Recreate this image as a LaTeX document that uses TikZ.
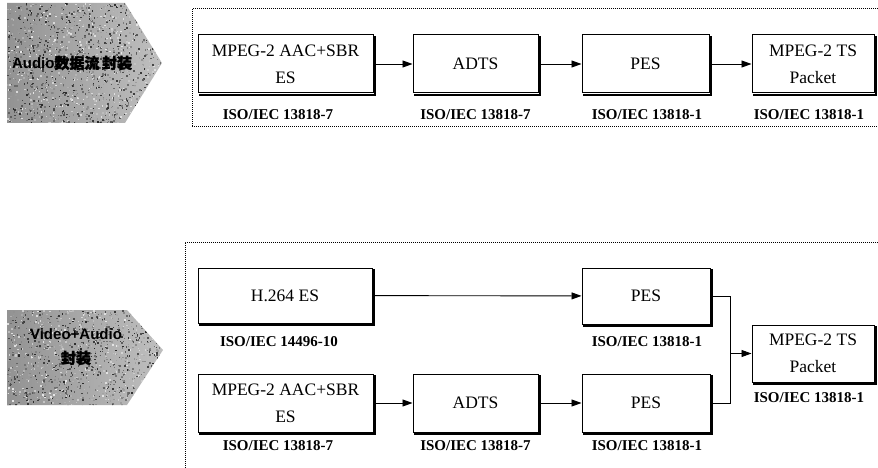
\documentclass[tikz,border=0pt]{standalone}
\usepackage{fontspec}
\setmainfont{Liberation Serif}
\setsansfont{Liberation Sans}
\newfontfamily\cjk[FakeBold=2]{Noto Sans CJK SC}
\usetikzlibrary{arrows.meta}
\tikzset{
  box/.style={draw, line width=1pt, fill=white, inner sep=0pt, align=center,
    font=\fontsize{17.5}{27}\selectfont},
  boxshadow/.style={line width=1.6pt, line cap=rect},
  lab/.style={font=\bfseries\fontsize{15}{17}\selectfont, inner sep=0pt},
  arr/.style={line width=0.9pt, -{Triangle[length=10pt,width=7pt]}},
  conn/.style={line width=0.9pt},
  framebox/.style={line width=1pt, dash pattern=on 1pt off 1pt},
  tag/.style={inner sep=0pt, text=black, font=\sffamily\bfseries\fontsize{15}{17}\selectfont, align=center}
}
\begin{document}
\begin{tikzpicture}[x=1pt,y=-1pt]
\useasboundingbox (0,0) rectangle (878,468);
\clip (0,0) rectangle (878,468);

% ---------- left pentagon tags ----------
\begin{scope}
  \clip (7,3) -- (125,3) -- (162,63) -- (125,123) -- (7,123) -- cycle;
  \shade[left color=gray!85, right color=gray!50] (7,3) rectangle (162,123);
  \pgfmathsetseed{7}
  \foreach \i in {1,...,1600}{
    \pgfmathsetmacro\rx{7+155*rnd}
    \pgfmathsetmacro\ry{3+120*rnd}
    \pgfmathsetmacro\rg{int(10+75*rnd)}
    \fill[black!\rg] (\rx,\ry) rectangle ++(1.5,1.5);
  }
\end{scope}
\node[tag] (tagA) at (72,63) {Audio{\cjk 数据流}\,{\cjk 封装}};

\begin{scope}
  \clip (7,310) -- (127,310) -- (163,350) -- (127,405) -- (7,405) -- cycle;
  \shade[left color=gray!85, right color=gray!50] (7,310) rectangle (163,405);
  \pgfmathsetseed{11}
  \foreach \i in {1,...,1300}{
    \pgfmathsetmacro\rx{7+156*rnd}
    \pgfmathsetmacro\ry{310+95*rnd}
    \pgfmathsetmacro\rg{int(10+75*rnd)}
    \fill[black!\rg] (\rx,\ry) rectangle ++(1.5,1.5);
  }
\end{scope}
\node[tag] (tagB1) at (76,334) {Video+Audio};
\node[tag] (tagB2) at (76,358) {\cjk 封装};

% ---------- dotted frames ----------
\draw[framebox] (884,9) -- (192,9) -- (192,127) -- (884,127);
\draw[framebox] (884,242) -- (185,242) -- (185,472);

% ---------- top row ----------
\node[box, minimum width=175pt, minimum height=58pt] (a1) at (285.5,64) {MPEG-2 AAC+SBR\\ES};
\node[box, minimum width=125pt, minimum height=58pt] (a2) at (475.5,64) {ADTS};
\node[box, minimum width=127pt, minimum height=58pt] (a3) at (645.5,64) {PES};
\node[box, minimum width=122pt, minimum height=58pt] (a4) at (813,64) {MPEG-2 TS\\Packet};

\node[lab] (la1) at (278,115) {ISO/IEC 13818-7};
\node[lab] (la2) at (475.5,115) {ISO/IEC 13818-7};
\node[lab] (la3) at (647,115) {ISO/IEC 13818-1};
\node[lab] (la4) at (809,115) {ISO/IEC 13818-1};

\draw[arr] (a1) -- (a2);
\draw[arr] (a2) -- (a3);
\draw[arr] (a3) -- (a4);

% ---------- bottom rows ----------
\node[box, minimum width=174pt, minimum height=55pt] (v1) at (285,295.5) {H.264 ES};
\node[box, minimum width=128pt, minimum height=56pt] (v3) at (646,296) {PES};

\node[box, minimum width=175pt, minimum height=58pt] (b1) at (285.5,403) {MPEG-2 AAC+SBR\\ES};
\node[box, minimum width=125pt, minimum height=58pt] (b2) at (475.5,403) {ADTS};
\node[box, minimum width=128pt, minimum height=58pt] (b3) at (646,403) {PES};

\node[box, minimum width=122pt, minimum height=57pt] (t2) at (813,353.5) {MPEG-2 TS\\Packet};

\foreach \n in {a1,a2,a3,a4,v1,v3,b1,b2,b3,t2}{
  \draw[boxshadow] ([xshift=2pt,yshift=-1.3pt]\n.south west) -- ([xshift=1.3pt,yshift=-1.3pt]\n.south east)
    -- ([xshift=1.3pt,yshift=-2pt]\n.north east);
}

\node[lab] (lv1) at (279,342) {ISO/IEC 14496-10};
\node[lab] (lv3) at (647,342) {ISO/IEC 13818-1};
\node[lab] (lb1) at (278,446) {ISO/IEC 13818-7};
\node[lab] (lb2) at (475.5,446) {ISO/IEC 13818-7};
\node[lab] (lb3) at (647,446) {ISO/IEC 13818-1};
\node[lab] (lt2) at (809,398) {ISO/IEC 13818-1};

\draw[arr] (v1) -- (v3);
\draw[arr] (b1) -- (b2);
\draw[arr] (b2) -- (b3);

\coordinate (j) at (730,353.5);
\draw[conn] (v3.east) -| (j);
\draw[conn] (b3.east) -| (j);
\draw[arr] (j) -- (t2.west);
\end{tikzpicture}
\end{document}
